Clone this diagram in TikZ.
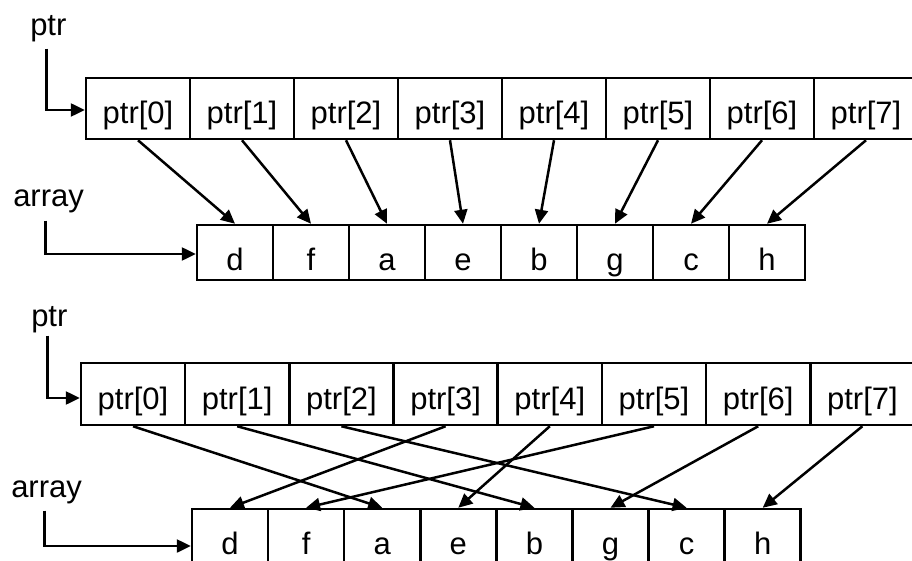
\documentclass[tikz,border=0pt]{standalone}
\usepackage{fontspec}
\setmainfont{Liberation Sans}
\usetikzlibrary{arrows.meta}
\begin{document}
\begin{tikzpicture}[x=1pt,y=-1pt,
  line width=2.5pt,
  every node/.style={font=\fontsize{31}{36}\selectfont},
  pcell/.style={draw, minimum width=104pt, minimum height=61pt, inner sep=0pt, text height=30pt, text depth=0pt},
  acell/.style={draw, minimum width=76pt, minimum height=55pt, inner sep=0pt, text height=36pt, text depth=0pt},
  lbl/.style={inner sep=0pt, anchor=base west},
  arr/.style={-{Triangle[length=14pt,width=13pt]}}]
\useasboundingbox (0,0) rectangle (912,561);

% ---------- upper diagram ----------
\foreach \i in {0,...,7}
  \node[pcell] (p\i) at ({138+104*\i},108.5) {ptr[\i]};
\foreach \l [count=\i from 0] in {d,f,a,e,b,g,c,h}
  \node[acell] (a\i) at ({235+76*\i},252.5) {\l};

\node[lbl] (lp1) at (29,36) {ptr};
\node[lbl] (la1) at (12,207) {array};
\draw[arr] ([shift={(-2,5)}]lp1.south) |- ([yshift=-1.5pt]p0.west);
\draw[arr] ([shift={(-3,6)}]la1.south) |- ([yshift=-1.5pt]a0.west);

\foreach \i in {0,...,7}
  \draw[arr] (p\i.south) -- (a\i.north);

% ---------- lower diagram ----------
\foreach \i in {0,...,7}
  \node[pcell, minimum height=62pt] (q\i) at ({133+104.2*\i},394) {ptr[\i]};
\foreach \l [count=\i from 0] in {d,f,a,e,b,g,c,h}
  \node[acell] (b\i) at ({230+76.1*\i},536.5) {\l};

\node[lbl] (lp2) at (30,326) {ptr};
\node[lbl] (la2) at (10,497) {array};
\draw[arr] ([shift={(-2,2)}]lp2.south) |- ([yshift=-4pt]q0.west);
\draw[arr] ([shift={(-2,6)}]la2.south) |- ([yshift=-9.5pt]b0.west);

\foreach \s/\t in {0/2,1/4,2/6,3/0,4/3,5/1,6/5,7/7}
  \draw[arr] (q\s.south) -- (b\t.north);
\end{tikzpicture}
\end{document}
